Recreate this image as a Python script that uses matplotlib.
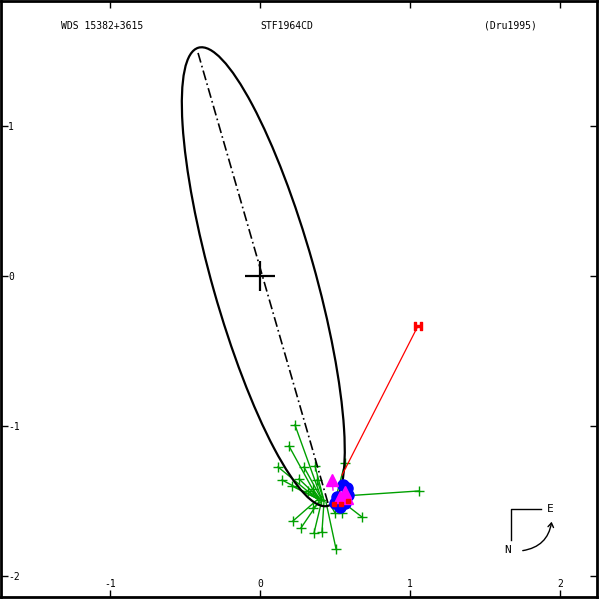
import numpy as np
import matplotlib
matplotlib.use("Agg")
import matplotlib.pyplot as plt
from matplotlib.patches import Ellipse, FancyArrowPatch
from matplotlib.lines import Line2D

plt.rcParams['font.family'] = ['DejaVu Sans Mono']
plt.rcParams['axes.unicode_minus'] = False

# orbit (apparent ellipse) in arcsec
orbit_center = (0.022, -0.005)
orbit_a = 1.587
orbit_b = 0.342
orbit_angle = 105.8

# line of apsides
apsis_x = [-0.413, 0.453]
apsis_y = [1.487, -1.513]

# micrometer measures (green) and their predicted positions on the orbit
obs_x = [0.233, 0.193, 0.120, 0.147, 0.293, 0.213, 0.260, 0.367, 0.380, 0.567, 0.353, 0.320,
         0.407, 1.060, 0.680, 0.220, 0.273, 0.360, 0.413, 0.507, 0.500, 0.547, 0.353]
obs_y = [-0.993, -1.133, -1.273, -1.360, -1.273, -1.400, -1.353, -1.267, -1.360, -1.247, -1.420, -1.433,
         -1.493, -1.433, -1.607, -1.633, -1.680, -1.713, -1.707, -1.820, -1.580, -1.580, -1.547]
pred_x = [0.413, 0.387, 0.373, 0.387, 0.413, 0.373, 0.400, 0.427, 0.427, 0.507, 0.400, 0.400,
          0.427, 0.553, 0.533, 0.387, 0.400, 0.413, 0.427, 0.440, 0.467, 0.493, 0.413]
pred_y = [-1.493, -1.487, -1.480, -1.487, -1.493, -1.480, -1.487, -1.500, -1.500, -1.473, -1.487, -1.487,
          -1.500, -1.467, -1.493, -1.487, -1.493, -1.493, -1.500, -1.507, -1.520, -1.513, -1.500]

# interferometric measures (blue)
blue_x = [0.580, 0.553, 0.587, 0.513, 0.500, 0.533, 0.567]
blue_y = [-1.413, -1.393, -1.460, -1.473, -1.513, -1.540, -1.513]

# magenta triangles
tri_x = [0.480, 0.567, 0.533, 0.580]
tri_y = [-1.360, -1.440, -1.473, -1.480]
tri_px = [0.487, 0.567, 0.533, 0.580]
tri_py = [-1.427, -1.453, -1.487, -1.493]

# small red squares
red_x = [0.493, 0.540, 0.587]
red_y = [-1.520, -1.520, -1.500]

# Hipparcos measure (red H)
hip_x = 1.053
hip_y = -0.333
hip_px = 0.547
hip_py = -1.327

fig = plt.figure(figsize=(6, 6), dpi=100)
ax = fig.add_axes([1/600, 3/600, 596/600, 596/600])
ax.set_xlim(-1.7267, 2.2467)
ax.set_ylim(-2.14, 1.8333)

green = '#00a000'
for i in range(len(obs_x)):
    ax.plot([obs_x[i], pred_x[i]], [obs_y[i], pred_y[i]], color=green, lw=1, zorder=2)
ax.plot(obs_x, obs_y, '+', color=green, ms=7, mew=1, zorder=2)

ell = Ellipse(orbit_center, 2*orbit_a, 2*orbit_b, angle=orbit_angle,
              fill=False, ec='black', lw=1.6, zorder=3)
ax.add_patch(ell)
ax.plot(apsis_x, apsis_y, color='black', lw=1.2, dashes=[6, 2, 1, 2], zorder=3)

# primary
ax.plot([0], [0], '+', color='black', ms=22, mew=1.6, zorder=3)

ax.plot([hip_x, hip_px], [hip_y, hip_py], color='red', lw=0.9, zorder=4)
ax.plot([hip_x], [hip_y], marker=r'$\mathbf{H}$', color='red', ms=6, zorder=6)

ax.plot(blue_x, blue_y, 'o', color='#0000ff', ms=8, zorder=4)
for i in range(len(tri_x)):
    ax.plot([tri_x[i], tri_px[i]], [tri_y[i], tri_py[i]], color='#ff00ff', lw=1, zorder=5)
ax.plot(tri_x, tri_y, '^', color='#ff00ff', ms=8, zorder=5)
ax.plot(red_x, red_y, 's', color='red', ms=3, zorder=6)

# axes, ticks
ax.set_xticks([-1, 0, 1, 2])
ax.set_yticks([-2, -1, 0, 1])
ax.tick_params(direction='in', length=5, width=1, top=True, right=True,
               labelsize=7, colors='black')
ax.tick_params(axis='x', pad=-13)
ax.tick_params(axis='y', pad=-5)
for lbl in ax.get_yticklabels():
    lbl.set_ha('left')
for sp in ax.spines.values():
    sp.set_linewidth(2)

ax.text(102/600, 1 - 26/600, 'WDS 15382+3615', transform=fig.transFigure,
        ha='center', va='center', fontsize=7)
ax.text(287/600, 1 - 26/600, 'STF1964CD', transform=fig.transFigure,
        ha='center', va='center', fontsize=7)
ax.text(510/600, 1 - 26/600, '(Dru1995)', transform=fig.transFigure,
        ha='center', va='center', fontsize=7)

# compass
def fp(x, y):
    return (x/600, 1 - y/600)

fig.add_artist(Line2D([511/600, 511/600, 541/600], [1-540/600, 1-509/600, 1-509/600],
                      color='black', lw=1, transform=fig.transFigure))
fig.text(*fp(550, 509), 'E', ha='center', va='center', fontsize=8)
fig.text(*fp(508, 550), 'N', ha='center', va='center', fontsize=8)
arc = FancyArrowPatch(fp(520, 551), fp(552, 519), connectionstyle='arc3,rad=0.4',
                      arrowstyle='->,head_length=3,head_width=2', lw=1, color='black',
                      transform=fig.transFigure)
fig.add_artist(arc)

fig.savefig('out.png', dpi=100)
